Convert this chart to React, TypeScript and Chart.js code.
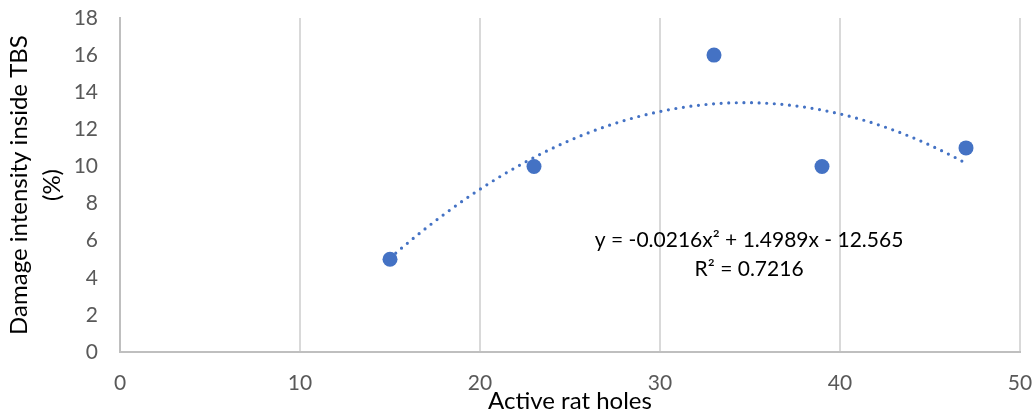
import React, { useEffect, useRef } from "react";
import { Chart, registerables } from "chart.js";

Chart.register(...registerables);

const activeRatHoles = [15, 23, 33, 39, 47];
const damageIntensity = [5, 10, 16, 10, 11];
// Trendline y = a*x^2 + b*x + c as shown in the chart's equation label
const trendCoefficients = [-0.0216, 1.4989, -12.565];
const trendRange = [15, 47];
const equationLines = ["y = -0.0216x\u00B2 + 1.4989x - 12.565", "R\u00B2 = 0.7216"];
const xTitle = "Active rat holes";
const yTitle = ["Damage intensity inside TBS", "(%)"];

const FONT = "Lato, 'Open Sans', sans-serif";

function zeroPadding(scale: any) {
  scale.paddingTop = 0;
  scale.paddingBottom = 0;
  scale.paddingLeft = 0;
  scale.paddingRight = 0;
}

export default function App() {
  const ref = useRef<HTMLCanvasElement | null>(null);

  useEffect(() => {
    if (!ref.current) return;
    const points = activeRatHoles.map((x, i) => ({ x, y: damageIntensity[i] }));
    const [a, b, c] = trendCoefficients;
    const trend: { x: number; y: number }[] = [];
    for (let x = trendRange[0]; x <= trendRange[1] + 1e-9; x += 0.25) {
      trend.push({ x, y: a * x * x + b * x + c });
    }

    const equationPlugin = {
      id: "equation",
      afterDatasetsDraw(chart: any) {
        const { ctx, scales } = chart;
        const cx = scales.x.getPixelForValue(34.95);
        const cy = scales.y.getPixelForValue(6.0);
        ctx.save();
        ctx.fillStyle = "#000000";
        ctx.font = `21px ${FONT}`;
        ctx.textAlign = "center";
        ctx.textBaseline = "middle";
        equationLines.forEach((line, i) => ctx.fillText(line, cx, cy + i * 29));
        ctx.restore();
      },
    };

    const chart = new Chart(ref.current, {
      type: "scatter",
      data: {
        datasets: [
          {
            data: points,
            backgroundColor: "#4472C4",
            borderColor: "#4472C4",
            pointRadius: 7.5,
            pointHoverRadius: 7.5,
            borderWidth: 0,
          },
          {
            data: trend,
            showLine: true,
            pointRadius: 0,
            borderColor: "#4472C4",
            borderWidth: 3.2,
            borderDash: [0, 7.6],
            borderCapStyle: "round",
            tension: 0,
          } as any,
        ],
      },
      options: {
        animation: false,
        responsive: false,
        layout: { padding: { top: 18, right: 15, left: 0, bottom: 0 } },
        plugins: { legend: { display: false }, tooltip: { enabled: false } },
        scales: {
          x: {
            type: "linear",
            min: 0,
            max: 50,
            ticks: { stepSize: 10, color: "#595959", font: { family: FONT, size: 21 }, padding: 19 },
            grid: { color: "#d9d9d9", lineWidth: 2, drawTicks: false },
            border: { color: "#bfbfbf", width: 2 },
            title: {
              display: true,
              text: xTitle,
              color: "#000000",
              font: { family: FONT, size: 24 },
              padding: { top: 0, bottom: 1 },
            },
            afterFit(scale: any) {
              scale.height = 65;
              zeroPadding(scale);
            },
          },
          y: {
            type: "linear",
            min: 0,
            max: 18,
            ticks: { stepSize: 2, color: "#595959", font: { family: FONT, size: 21 }, padding: 22 },
            grid: { display: false, drawTicks: false },
            border: { color: "#bfbfbf", width: 2 },
            title: {
              display: true,
              text: yTitle,
              color: "#000000",
              font: { family: FONT, size: 24, lineHeight: 1.4 },
              padding: { top: 2, bottom: 0 },
            },
            afterFit(scale: any) {
              scale.width = 120;
              zeroPadding(scale);
            },
          },
        },
      },
      plugins: [equationPlugin],
    } as any);

    return () => chart.destroy();
  }, []);

  return (
    <div style={{ position: "absolute", left: 0, top: 0, width: 1035, height: 417, background: "#fff" }}>
      <canvas ref={ref} width={1035} height={417} />
    </div>
  );
}
